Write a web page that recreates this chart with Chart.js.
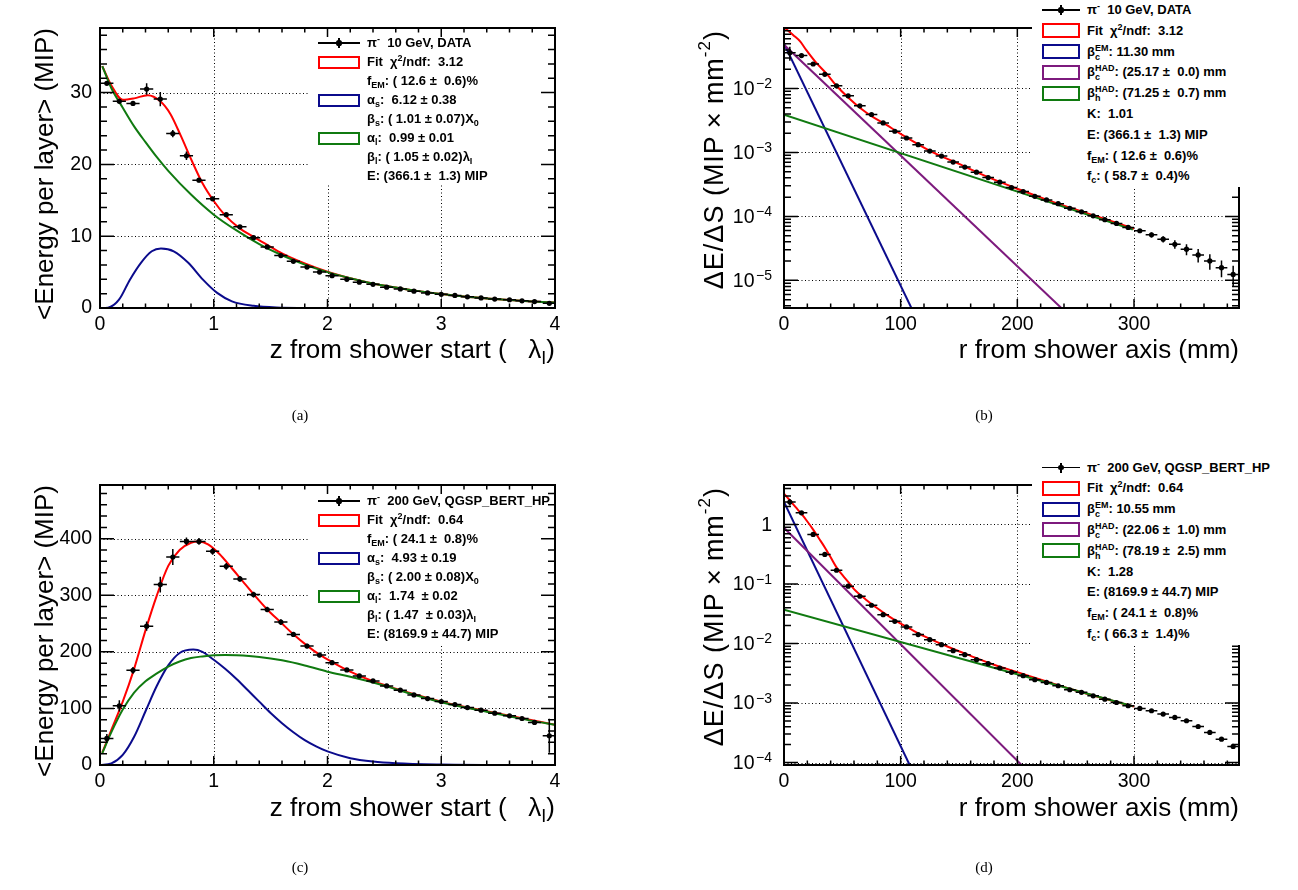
<!DOCTYPE html>
<html>
<head>
<meta charset="utf-8">
<title>Shower profiles</title>
<script src="https://cdn.jsdelivr.net/npm/chart.js@4.4.1/dist/chart.umd.min.js"></script>
<style>
  html, body { margin: 0; padding: 0; background: #fff; }
  body { position: relative; width: 1298px; height: 890px; overflow: hidden; font-family: 'Liberation Sans', Arial, sans-serif; color: #000; }
  .panel { position: absolute; width: 649px; height: 445px; }
  .yt { position: absolute; font-size: 26px; line-height: 30px; white-space: nowrap; writing-mode: vertical-rl; transform: rotate(180deg); }
  .yt.wide { font-size: 27px; letter-spacing: 1px; }
  .yt sup { font-size: 17px; vertical-align: 9px; line-height: 0; }
  .xt { position: absolute; font-size: 26px; line-height: 30px; white-space: pre; }
  .xt sub { font-size: 18px; vertical-align: -6px; line-height: 0; }
  .cap { position: absolute; font: 15px 'Liberation Serif', 'Times New Roman', serif; transform: translate(-50%, -50%); }
  .wbg { position: absolute; background: #fff; }
  .lg { position: absolute; font: bold 13px 'Liberation Sans', Arial, sans-serif; line-height: 16px; white-space: pre; }
  .lg sub { font-size: 9px; vertical-align: -3px; line-height: 0; }
  .lg sup { font-size: 9px; vertical-align: 5px; line-height: 0; }
  .ss { display: inline-block; font-size: 9px; line-height: 9px; vertical-align: -4px; }
  .ss span { display: block; }
  .bx { position: absolute; box-sizing: border-box; border: 2px solid; background: #fff; }
  .dmk { position: absolute; height: 0; }
  .dmk .h { position: absolute; left: 0; right: 0; top: -0.75px; height: 1.5px; background: #000; }
  .dmk .v { position: absolute; left: 50%; top: -5px; width: 1.5px; height: 10px; margin-left: -0.75px; background: #000; }
  .dmk .d { position: absolute; left: 50%; top: -2.6px; width: 5.2px; height: 5.2px; margin-left: -2.6px; border-radius: 50%; background: #000; }
</style>
</head>
<body>

<div class="panel" style="left:0;top:0"><canvas id="cA"></canvas></div>
<div class="panel" style="left:649px;top:0"><canvas id="cB"></canvas></div>
<div class="panel" style="left:0;top:457px"><canvas id="cC"></canvas></div>
<div class="panel" style="left:649px;top:457px"><canvas id="cD"></canvas></div>

<!-- axis titles -->
<div class="yt" style="left:29px;top:28px">&lt;Energy per layer&gt; (MIP)</div>
<div class="yt" style="left:29px;top:485px">&lt;Energy per layer&gt; (MIP)</div>
<div class="yt wide" style="left:699px;top:30px">ΔE/ΔS (MIP×mm<sup>-2</sup>)</div>
<div class="yt wide" style="left:699px;top:487px">ΔE/ΔS (MIP×mm<sup>-2</sup>)</div>
<div class="xt" style="right:743px;top:334px">z from shower start (   λ<sub>I</sub>)</div>
<div class="xt" style="right:743px;top:792px">z from shower start (   λ<sub>I</sub>)</div>
<div class="xt" style="right:59px;top:334px">r from shower axis (mm)</div>
<div class="xt" style="right:59px;top:792px">r from shower axis (mm)</div>

<!-- legend (a) -->
<div class="dmk" style="left:318px;top:43px;width:42px"><div class="h"></div><div class="v"></div><div class="d"></div></div>
<div class="bx" style="left:318px;top:56px;width:42px;height:13px;border-color:#ff0000"></div>
<div class="bx" style="left:318px;top:94px;width:42px;height:13px;border-color:#0b0b8c"></div>
<div class="bx" style="left:318px;top:132px;width:42px;height:13px;border-color:#107a10"></div>
<div class="lg" style="left:367px;top:35px">π<sup>-</sup>  10 GeV, DATA</div>
<div class="lg" style="left:367px;top:54px">Fit  χ<sup>2</sup>/ndf:  3.12</div>
<div class="lg" style="left:367px;top:73px">f<sub>EM</sub>: ( 12.6 ±  0.6)%</div>
<div class="lg" style="left:367px;top:92px">α<sub>s</sub>:  6.12 ± 0.38</div>
<div class="lg" style="left:367px;top:111px">β<sub>s</sub>: ( 1.01 ± 0.07)X<sub>0</sub></div>
<div class="lg" style="left:367px;top:130px">α<sub>l</sub>:  0.99 ± 0.01</div>
<div class="lg" style="left:367px;top:149px">β<sub>l</sub>: ( 1.05 ± 0.02)λ<sub>I</sub></div>
<div class="lg" style="left:367px;top:168px">E: (366.1 ±  1.3) MIP</div>

<!-- legend (c) -->
<div class="dmk" style="left:318px;top:501px;width:42px"><div class="h"></div><div class="v"></div><div class="d"></div></div>
<div class="bx" style="left:318px;top:513.5px;width:42px;height:13px;border-color:#ff0000"></div>
<div class="bx" style="left:318px;top:551.5px;width:42px;height:13px;border-color:#0b0b8c"></div>
<div class="bx" style="left:318px;top:589.5px;width:42px;height:13px;border-color:#107a10"></div>
<div class="lg" style="left:367px;top:493px">π<sup>-</sup>  200 GeV, QGSP_BERT_HP</div>
<div class="lg" style="left:367px;top:512px">Fit  χ<sup>2</sup>/ndf:  0.64</div>
<div class="lg" style="left:367px;top:531px">f<sub>EM</sub>: ( 24.1 ±  0.8)%</div>
<div class="lg" style="left:367px;top:550px">α<sub>s</sub>:  4.93 ± 0.19</div>
<div class="lg" style="left:367px;top:569px">β<sub>s</sub>: ( 2.00 ± 0.08)X<sub>0</sub></div>
<div class="lg" style="left:367px;top:588px">α<sub>l</sub>:  1.74  ± 0.02</div>
<div class="lg" style="left:367px;top:607px">β<sub>l</sub>: ( 1.47  ± 0.03)λ<sub>I</sub></div>
<div class="lg" style="left:367px;top:626px">E: (8169.9 ± 44.7) MIP</div>

<!-- legend (b) -->
<div class="wbg" style="left:1032px;top:0;width:266px;height:187px"></div>
<div class="dmk" style="left:1042px;top:10px;width:38px"><div class="h"></div><div class="v"></div><div class="d"></div></div>
<div class="bx" style="left:1042px;top:23.3px;width:38px;height:15px;border-color:#ff0000"></div>
<div class="bx" style="left:1042px;top:44.1px;width:38px;height:15px;border-color:#0b0b8c"></div>
<div class="bx" style="left:1042px;top:64.9px;width:38px;height:15px;border-color:#7d1a7d"></div>
<div class="bx" style="left:1042px;top:85.7px;width:38px;height:15px;border-color:#107a10"></div>
<div class="lg" style="left:1087px;top:2px">π<sup>-</sup>  10 GeV, DATA</div>
<div class="lg" style="left:1087px;top:22.8px">Fit  χ<sup>2</sup>/ndf:  3.12</div>
<div class="lg" style="left:1087px;top:43.6px">β<span class="ss"><span>EM</span><span>c</span></span>: 11.30 mm</div>
<div class="lg" style="left:1087px;top:64.4px">β<span class="ss"><span>HAD</span><span>c</span></span>: (25.17 ±  0.0) mm</div>
<div class="lg" style="left:1087px;top:85.2px">β<span class="ss"><span>HAD</span><span>h</span></span>: (71.25 ±  0.7) mm</div>
<div class="lg" style="left:1087px;top:106px">K:  1.01</div>
<div class="lg" style="left:1087px;top:126.8px">E: (366.1 ±  1.3) MIP</div>
<div class="lg" style="left:1087px;top:147.6px">f<sub>EM</sub>: ( 12.6 ±  0.6)%</div>
<div class="lg" style="left:1087px;top:168.4px">f<sub>c</sub>: ( 58.7 ±  0.4)%</div>

<!-- legend (d) -->
<div class="wbg" style="left:1032px;top:457px;width:266px;height:188px"></div>
<div class="dmk" style="left:1042px;top:467.5px;width:38px"><div class="h"></div><div class="v"></div><div class="d"></div></div>
<div class="bx" style="left:1042px;top:480.8px;width:38px;height:15px;border-color:#ff0000"></div>
<div class="bx" style="left:1042px;top:501.6px;width:38px;height:15px;border-color:#0b0b8c"></div>
<div class="bx" style="left:1042px;top:522.4px;width:38px;height:15px;border-color:#7d1a7d"></div>
<div class="bx" style="left:1042px;top:543.2px;width:38px;height:15px;border-color:#107a10"></div>
<div class="lg" style="left:1087px;top:459.5px">π<sup>-</sup>  200 GeV, QGSP_BERT_HP</div>
<div class="lg" style="left:1087px;top:480.3px">Fit  χ<sup>2</sup>/ndf:  0.64</div>
<div class="lg" style="left:1087px;top:501.1px">β<span class="ss"><span>EM</span><span>c</span></span>: 10.55 mm</div>
<div class="lg" style="left:1087px;top:521.9px">β<span class="ss"><span>HAD</span><span>c</span></span>: (22.06 ±  1.0) mm</div>
<div class="lg" style="left:1087px;top:542.7px">β<span class="ss"><span>HAD</span><span>h</span></span>: (78.19 ±  2.5) mm</div>
<div class="lg" style="left:1087px;top:563.5px">K:  1.28</div>
<div class="lg" style="left:1087px;top:584.3px">E: (8169.9 ± 44.7) MIP</div>
<div class="lg" style="left:1087px;top:605.1px">f<sub>EM</sub>: ( 24.1 ±  0.8)%</div>
<div class="lg" style="left:1087px;top:625.9px">f<sub>c</sub>: ( 66.3 ±  1.4)%</div>

<div class="cap" style="left:300px;top:415px">(a)</div>
<div class="cap" style="left:984px;top:415px">(b)</div>
<div class="cap" style="left:300px;top:867px">(c)</div>
<div class="cap" style="left:984px;top:867px">(d)</div>

<script>
// ===== data =====

// longitudinal profiles: layer centres in lambda_I
const zLayer = [0.06, 0.17, 0.29, 0.41, 0.53, 0.64, 0.76, 0.87, 0.99, 1.11, 1.23, 1.35, 1.47, 1.59, 1.70, 1.82, 1.93,
                2.04, 2.17, 2.28, 2.40, 2.52, 2.64, 2.76, 2.88, 3.00, 3.12, 3.23, 3.35, 3.47, 3.60, 3.71, 3.82, 3.95];

// (a) pi- 10 GeV data
const eLayerA = [31.3, 28.8, 28.5, 30.5, 29.1, 24.3, 21.2, 17.8, 15.2, 13.0, 11.3, 9.8, 8.5, 7.3, 6.5, 5.7, 5.0,
                 4.5, 4.0, 3.6, 3.3, 2.9, 2.65, 2.35, 2.1, 1.9, 1.75, 1.55, 1.4, 1.25, 1.15, 1.0, 0.9, 0.65];
const errLayerA = [0.25, 0.35, 0.3, 0.8, 1.0, 0.5, 0.6, 0.3, 0.3, 0.25, 0.2, 0.2, 0.15, 0.15, 0.12, 0.1, 0.1,
                   0.1, 0.1, 0.08, 0.08, 0.08, 0.08, 0.07, 0.07, 0.07, 0.07, 0.07, 0.07, 0.07, 0.07, 0.07, 0.07, 0.1];
const fitZA = [0.02, 0.1, 0.2, 0.3, 0.42, 0.53, 0.62, 0.71, 0.81, 0.9, 1.0, 1.1, 1.22, 1.35, 1.48, 1.6, 1.8, 2.0,
               2.2, 2.4, 2.6, 2.8, 3.0, 3.2, 3.4, 3.6, 3.8, 4.0];
const fitA = [33.7, 31.0, 29.0, 29.2, 29.65, 28.8, 27.0, 24.0, 20.4, 17.4, 14.9, 12.9, 11.2, 9.9, 8.7, 7.6, 6.2, 5.05,
              4.15, 3.4, 2.85, 2.35, 1.95, 1.6, 1.33, 1.1, 0.9, 0.75];
const emZA = [0, 0.07, 0.167, 0.263, 0.36, 0.455, 0.536, 0.648, 0.776, 0.905, 1.03, 1.16, 1.35, 1.55, 2.0, 4.0];
const emA = [0, 0.05, 1.16, 3.95, 6.3, 7.9, 8.28, 7.9, 6.3, 3.95, 2.1, 0.93, 0.3, 0.08, 0, 0];
const hadZA = [0.02, 0.1, 0.2, 0.3, 0.4, 0.5, 0.6, 0.8, 1.0, 1.2, 1.4, 1.6, 1.8, 2.0, 2.2, 2.4, 2.6, 2.8, 3.0,
               3.2, 3.4, 3.6, 3.8, 4.0];
const hadA = [33.7, 30.6, 27.9, 25.3, 23.1, 21.0, 19.1, 15.8, 13.0, 10.8, 8.9, 7.35, 6.05, 5.0, 4.15, 3.4, 2.85, 2.35, 1.95,
              1.6, 1.33, 1.1, 0.9, 0.75];

// (c) pi- 200 GeV QGSP_BERT_HP
const eLayerC = [47, 104.6, 167.4, 245.5, 319, 367.7, 395.3, 395.3, 377.7, 351.2, 329, 301.3, 274.9, 252.6, 230.8, 210.3, 194.4,
                 180.9, 168, 157.4, 148.6, 139.8, 132.2, 123.9, 117.5, 112.2, 106.9, 101.6, 96.9, 91.6, 86.9, 82.2, 75.2, 51.7];
const errLayerC = [8, 10, 6, 8, 14, 14, 7, 6, 6, 6, 5, 5, 5, 5, 4, 4, 4,
                   4, 3, 3, 3, 3, 3, 3, 3, 3, 3, 3, 3, 3, 3, 3, 4, 30];
const fitZC = [0.02, 0.1, 0.2, 0.3, 0.4, 0.5, 0.6, 0.7, 0.8, 0.87, 0.95, 1.05, 1.15, 1.25, 1.35, 1.47, 1.59, 1.7,
               1.82, 1.93, 2.05, 2.2, 2.4, 2.6, 2.8, 3.0, 3.2, 3.4, 3.6, 3.8, 4.0];
const fitC = [22, 62, 112, 170, 238, 300, 352, 380, 393, 395, 390, 373, 350, 326, 302, 275, 252, 231,
              211, 195, 181, 165, 148, 135, 123, 112, 103, 95, 87, 79, 71];
const emZC = [0, 0.1, 0.2, 0.3, 0.4, 0.5, 0.6, 0.7, 0.82, 0.9, 1.0, 1.1, 1.2, 1.3, 1.4, 1.5, 1.6, 1.7, 1.8, 1.9, 2.0,
              2.2, 2.4, 2.6, 3.0, 3.5, 4.0];
const emC = [0, 3, 18, 50, 95, 140, 176, 198, 204, 200, 186, 170, 152, 132, 112, 92, 74, 58, 44, 33, 24,
             12, 6, 3, 0.8, 0, 0];
const hadZC = [0.02, 0.1, 0.2, 0.3, 0.4, 0.5, 0.6, 0.7, 0.8, 0.9, 1.0, 1.1, 1.2, 1.4, 1.6, 1.8, 2.0, 2.2, 2.4, 2.6,
               2.8, 3.0, 3.2, 3.4, 3.6, 3.8, 4.0];
const hadC = [21, 58, 98, 128, 148, 162, 174, 183, 189, 192, 194, 194.5, 194, 191, 185, 176, 165, 156, 146, 134,
              122, 111, 102, 94, 86, 78, 71];

// radial profiles: ring centres in mm
const rRing = [5, 15, 25, 35, 45, 55, 65, 75, 85, 95, 105, 115, 125, 135, 145, 155, 165, 175, 185, 195,
               205, 215, 225, 235, 245, 255, 265, 275, 285, 295, 305, 315, 325, 335, 345, 355, 365, 375, 385];

// (b) pi- 10 GeV data
const dedsB = [0.036, 0.0326, 0.0241, 0.0166, 0.0110, 0.00767, 0.00535, 0.00391, 0.00289, 0.00214, 0.00168, 0.00132, 0.00105,
               0.000875, 0.000705, 0.000589, 0.000491, 0.000405, 0.000342, 0.000282, 0.000244, 0.000206, 0.000181, 0.000158,
               0.000134, 0.000118, 0.000102, 0.0000887, 0.0000777, 0.0000672, 0.0000596, 0.0000515, 0.0000441, 0.0000367,
               0.0000307, 0.0000250, 0.0000201, 0.0000158, 0.0000124];
const errB = [0.009, 0.0025, 0.0012, 0.0007, 0.00045, 0.0003, 0.0002, 0.00014, 0.0001, 0.00008, 0.00006, 0.00005, 0.00004,
              0.00003, 0.000025, 0.00002, 0.000017, 0.000014, 0.000012, 0.00001, 0.000009, 0.000008, 0.000007, 0.000006,
              0.000005, 0.0000045, 0.000004, 0.0000035, 0.000003, 0.0000028, 0.0000042, 0.0000046, 0.000005, 0.0000055,
              0.000006, 0.000006, 0.0000054, 0.0000046, 0.0000045];
const fitRB = [1, 8, 14, 19, 27, 37, 45, 55, 65, 76, 85, 100, 125, 150, 175, 200, 225, 250, 275, 300];
const fitB = [0.087, 0.068, 0.054, 0.040, 0.026, 0.0166, 0.011, 0.0072, 0.0050, 0.0036, 0.0029, 0.00195, 0.00106, 0.00066,
              0.00041, 0.00027, 0.000183, 0.000128, 0.000091, 0.000064];
const emRB = [0, 109.2], emB = [0.05, 0.0000037];
const coreRB = [0, 237.7], coreB = [0.048, 0.0000037];
const haloRB = [0, 299], haloB = [0.0039, 0.000062];

// (d) pi- 200 GeV QGSP_BERT_HP
const dedsD = [2.38, 1.57, 0.679, 0.313, 0.170, 0.0917, 0.0622, 0.0439, 0.0305, 0.0236, 0.0190, 0.0141, 0.0116, 0.00955,
               0.00757, 0.00648, 0.00534, 0.00458, 0.00387, 0.00327, 0.00288, 0.00246, 0.00222, 0.00195, 0.00167, 0.00151,
               0.00132, 0.00116, 0.00102, 0.000899, 0.000811, 0.000741, 0.000651, 0.000572, 0.000503, 0.000403, 0.000320,
               0.000247, 0.000186];
const errD = [0.3, 0.08, 0.025, 0.01, 0.005, 0.0025, 0.0017, 0.0012, 0.0008, 0.0006, 0.0005, 0.00035, 0.0003, 0.00025,
              0.0002, 0.00017, 0.00014, 0.00012, 0.0001, 0.00008, 0.00007, 0.00006, 0.000055, 0.00005, 0.00004, 0.000038,
              0.000033, 0.00003, 0.000026, 0.000023, 0.00002, 0.000019, 0.000017, 0.000015, 0.000013, 0.000011, 0.000009,
              0.000008, 0.000007];
const fitRD = [0, 5, 10, 15, 20, 25, 30, 35, 40, 45, 50, 55, 60, 70, 80, 90, 100, 110, 120, 140, 160, 180, 200, 225, 250, 275, 300];
const fitD = [3.3, 2.55, 1.95, 1.5, 1.12, 0.82, 0.58, 0.41, 0.28, 0.19, 0.142, 0.108, 0.082, 0.055, 0.039, 0.0285, 0.0215,
              0.0168, 0.0133, 0.0089, 0.0062, 0.0044, 0.0033, 0.0023, 0.00162, 0.00118, 0.00087];
const emRD = [0, 107.7], emD = [2.4, 0.0000908];
const coreRD = [0, 203.6], coreD = [0.88, 0.0000908];
const haloRD = [0, 299], haloD = [0.037, 0.00088];

// tick labels
const zTicks = [0, 1, 2, 3, 4];
const rTicks = [0, 100, 200, 300];
const eTicksA = [0, 10, 20, 30];
const eTicksC = [0, 100, 200, 300, 400];
const logTicksB = [1e-5, 1e-4, 1e-3, 1e-2];
const logTicksD = [1e-4, 1e-3, 1e-2, 1e-1, 1];

// ===== drawing =====
Chart.defaults.font.family = "'Liberation Sans', Arial, sans-serif";
Chart.defaults.color = '#000';

const RED = '#ff0000', BLUE = '#0b0b8c', PURPLE = '#7d1a7d', GREEN = '#107a10';
const FONT = "'Liberation Sans', Arial, sans-serif";

// ROOT-like frame: dotted grid, ticks inside on all sides, error bars
const rootFrame = {
    id: 'rootFrame',
    beforeDatasetsDraw(chart, args, o) {
        const { ctx, chartArea: a, scales: { x, y } } = chart;
        ctx.save();
        ctx.strokeStyle = '#000';
        ctx.lineWidth = 1;
        ctx.setLineDash([1, 2.5]);
        ctx.beginPath();
        o.xGrid.forEach(v => {
            const p = Math.round(x.getPixelForValue(v)) + 0.5;
            ctx.moveTo(p, a.top); ctx.lineTo(p, a.bottom);
        });
        o.yGrid.forEach(v => {
            const p = Math.round(y.getPixelForValue(v)) + 0.5;
            ctx.moveTo(a.left, p); ctx.lineTo(a.right, p);
        });
        ctx.stroke();
        ctx.setLineDash([]);
        if (o.box) {
            ctx.fillStyle = '#fff';
            ctx.fillRect(o.box[0], o.box[1], o.box[2], o.box[3]);
        }
        ctx.restore();
    },
    afterDatasetsDraw(chart, args, o) {
        const { ctx, chartArea: a, scales: { x, y } } = chart;
        ctx.save();
        ctx.strokeStyle = '#000';
        ctx.lineWidth = 1.5;

        // error bars
        ctx.beginPath();
        o.xs.forEach((xv, i) => {
            const yv = o.ys[i];
            const px = x.getPixelForValue(xv), py = y.getPixelForValue(yv);
            ctx.moveTo(x.getPixelForValue(xv - o.ex), py);
            ctx.lineTo(x.getPixelForValue(xv + o.ex), py);
            const lo = Math.max(yv - o.ey[i], y.min);
            ctx.moveTo(px, y.getPixelForValue(lo));
            ctx.lineTo(px, Math.max(y.getPixelForValue(yv + o.ey[i]), a.top));
        });
        ctx.stroke();

        // ticks
        ctx.beginPath();
        for (let k = 0; k * o.xMinor <= x.max + 1e-9; k++) {
            const v = k * o.xMinor;
            const major = k % o.xPer === 0;
            const len = major ? 9 : 4.5;
            const p = x.getPixelForValue(v);
            ctx.moveTo(p, a.bottom); ctx.lineTo(p, a.bottom - len);
            ctx.moveTo(p, a.top); ctx.lineTo(p, a.top + len);
        }
        const yTick = (v, major) => {
            const p = y.getPixelForValue(v);
            const len = major ? 14 : 7;
            ctx.moveTo(a.left, p); ctx.lineTo(a.left + len, p);
            ctx.moveTo(a.right, p); ctx.lineTo(a.right - len, p);
        };
        if (o.log) {
            const d0 = Math.floor(Math.log10(y.min)), d1 = Math.ceil(Math.log10(y.max));
            for (let d = d0; d <= d1; d++) {
                for (let m = 1; m <= 9; m++) {
                    const v = m * Math.pow(10, d);
                    if (v >= y.min && v <= y.max) yTick(v, m === 1);
                }
            }
        } else {
            for (let k = 0; k * o.yMinor <= y.max + 1e-9; k++) {
                yTick(k * o.yMinor, k % o.yPer === 0);
            }
        }
        ctx.stroke();

        // frame
        ctx.lineWidth = 2;
        ctx.strokeRect(a.left, a.top, a.right - a.left, a.bottom - a.top);
        ctx.restore();
    },
    afterDraw(chart, args, o) {
        if (!o.log) return;
        const { ctx, chartArea: a, scales: { y } } = chart;
        ctx.save();
        ctx.fillStyle = '#000';
        ctx.textBaseline = 'middle';
        ctx.textAlign = 'left';
        o.yLabels.forEach(v => {
            const py = y.getPixelForValue(v);
            const e = Math.round(Math.log10(v));
            const base = e === 0 ? '1' : '10';
            const expo = e === 0 ? '' : (e < 0 ? '\u2212' + (-e) : String(e));
            ctx.font = '19.5px ' + FONT;
            const w1 = ctx.measureText(base).width;
            ctx.font = '14px ' + FONT;
            const w2 = expo ? ctx.measureText(expo).width + 1.5 : 0;
            const x0 = a.left - 12 - w1 - w2;
            ctx.font = '19.5px ' + FONT;
            ctx.fillText(base, x0, py + 1);
            if (expo) {
                ctx.font = '14px ' + FONT;
                ctx.fillText(expo, x0 + w1 + 1.5, py - 4);
            }
        });
        ctx.restore();
    }
};

function profileChart(id, p) {
    const pts = (xs, ys) => xs.map((x, i) => ({ x: x, y: ys[i] }));
    const curve = c => ({
        data: pts(c[0], c[1]),
        showLine: true,
        borderColor: c[2],
        borderWidth: 2,
        pointRadius: 0,
        pointHoverRadius: 0,
        cubicInterpolationMode: 'monotone',
        fill: false
    });
    return new Chart(document.getElementById(id), {
        type: 'scatter',
        data: {
            datasets: [
                {
                    data: pts(p.frame.xs, p.frame.ys),
                    pointRadius: 2.6,
                    pointHoverRadius: 0,
                    pointBorderWidth: 0,
                    pointBackgroundColor: '#000',
                    showLine: false
                },
                ...p.curves.map(curve)
            ]
        },
        options: {
            animation: false,
            responsive: true,
            maintainAspectRatio: false,
            events: [],
            layout: { padding: { left: 0, right: 649 - p.right, top: 28, bottom: 0 } },
            plugins: {
                legend: { display: false },
                tooltip: { enabled: false },
                rootFrame: p.frame
            },
            scales: {
                x: {
                    type: 'linear',
                    min: p.xMin,
                    max: p.xMax,
                    grid: { display: false, drawTicks: false },
                    border: { display: false },
                    ticks: { font: { size: 19.5 }, padding: 5, maxRotation: 0, autoSkip: false },
                    afterBuildTicks: s => { s.ticks = p.xTicks.map(v => ({ value: v })); },
                    afterFit: s => { s.height = 137; }
                },
                y: {
                    type: p.log ? 'logarithmic' : 'linear',
                    min: p.yMin,
                    max: p.yMax,
                    grid: { display: false, drawTicks: false },
                    border: { display: false },
                    ticks: { display: !p.log, font: { size: 19.5 }, padding: 8, autoSkip: false },
                    afterBuildTicks: s => { s.ticks = p.yTicks.map(v => ({ value: v })); },
                    afterFit: s => { s.width = p.left; }
                }
            }
        },
        plugins: [rootFrame]
    });
}

// ------ (a) longitudinal, 10 GeV data ------
profileChart('cA', {
    left: 100, right: 555, xMin: 0, xMax: 4, yMin: 0, yMax: 39,
    xTicks: zTicks, yTicks: eTicksA,
    curves: [[hadZA, hadA, GREEN], [emZA, emA, BLUE], [fitZA, fitA, RED]],
    frame: {
        xs: zLayer, ys: eLayerA, ey: errLayerA, ex: 0.058,
        xGrid: [1, 2, 3], yGrid: [10, 20, 30],
        xMinor: 0.2, xPer: 5, yMinor: 2, yPer: 5,
        box: [308, 28, 247, 155]
    }
});

// ------ (b) radial, 10 GeV data ------
profileChart('cB', {
    left: 135, right: 590, xMin: 0, xMax: 390, yMin: 0.0000037, yMax: 0.088, log: true,
    xTicks: rTicks, yTicks: logTicksB,
    curves: [[haloRB, haloB, GREEN], [coreRB, coreB, PURPLE], [emRB, emB, BLUE], [fitRB, fitB, RED]],
    frame: {
        xs: rRing, ys: dedsB, ey: errB, ex: 5,
        xGrid: [100, 200, 300], yGrid: logTicksB,
        xMinor: 20, xPer: 5, log: true, yLabels: logTicksB
    }
});

// ------ (c) longitudinal, 200 GeV simulation ------
profileChart('cC', {
    left: 100, right: 555, xMin: 0, xMax: 4, yMin: 0, yMax: 495,
    xTicks: zTicks, yTicks: eTicksC,
    curves: [[hadZC, hadC, GREEN], [emZC, emC, BLUE], [fitZC, fitC, RED]],
    frame: {
        xs: zLayer, ys: eLayerC, ey: errLayerC, ex: 0.058,
        xGrid: [1, 2, 3], yGrid: [100, 200, 300, 400],
        xMinor: 0.2, xPer: 5, yMinor: 20, yPer: 5,
        box: [308, 28, 247, 160]
    }
});

// ------ (d) radial, 200 GeV simulation ------
profileChart('cD', {
    left: 135, right: 590, xMin: 0, xMax: 390, yMin: 0.0000908, yMax: 4.6, log: true,
    xTicks: rTicks, yTicks: logTicksD,
    curves: [[haloRD, haloD, GREEN], [coreRD, coreD, PURPLE], [emRD, emD, BLUE], [fitRD, fitD, RED]],
    frame: {
        xs: rRing, ys: dedsD, ey: errD, ex: 5,
        xGrid: [100, 200, 300], yGrid: logTicksD,
        xMinor: 20, xPer: 5, log: true, yLabels: logTicksD
    }
});
</script>
</body>
</html>
